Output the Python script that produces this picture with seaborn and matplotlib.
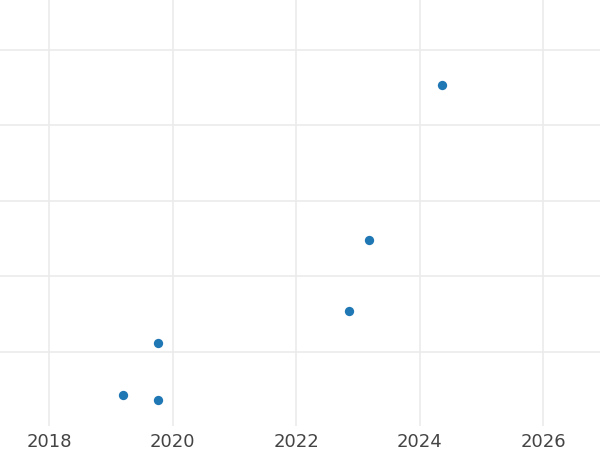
import matplotlib
matplotlib.use('Agg')
import matplotlib.pyplot as plt
import seaborn as sns
import pandas as pd

years = [2019.2, 2019.77, 2019.77, 2022.86, 2023.18, 2024.36]
values = [4.3, 3.6, 11.2, 15.4, 24.8, 45.4]
x_ticks = [2018, 2020, 2022, 2024, 2026]
y_ticks = [10, 20, 30, 40, 50]

df = pd.DataFrame({'year': years, 'value': values})

sns.set_theme(style='whitegrid')
plt.rcParams['font.family'] = ['DejaVu Sans']

fig = plt.figure(figsize=(6, 4.5), dpi=100)
ax = fig.add_axes([0, 24 / 450, 1, 426 / 450])

sns.scatterplot(data=df, x='year', y='value', ax=ax, s=45,
                color='#1f77b4', linewidth=0, zorder=3)

ax.set_xlim(2017.206, 2026.923)
ax.set_ylim(0.2, 56.6)
ax.set_xticks(x_ticks)
ax.set_yticks(y_ticks)
ax.set_yticklabels([])
ax.set_xlabel('')
ax.set_ylabel('')
ax.grid(True, color='#ebebeb', linewidth=1.2)
for s in ax.spines.values():
    s.set_visible(False)
ax.tick_params(axis='x', length=0, pad=5, labelsize=13, labelcolor='#444444')
ax.tick_params(axis='y', length=0)

fig.savefig('out.png', dpi=100)
